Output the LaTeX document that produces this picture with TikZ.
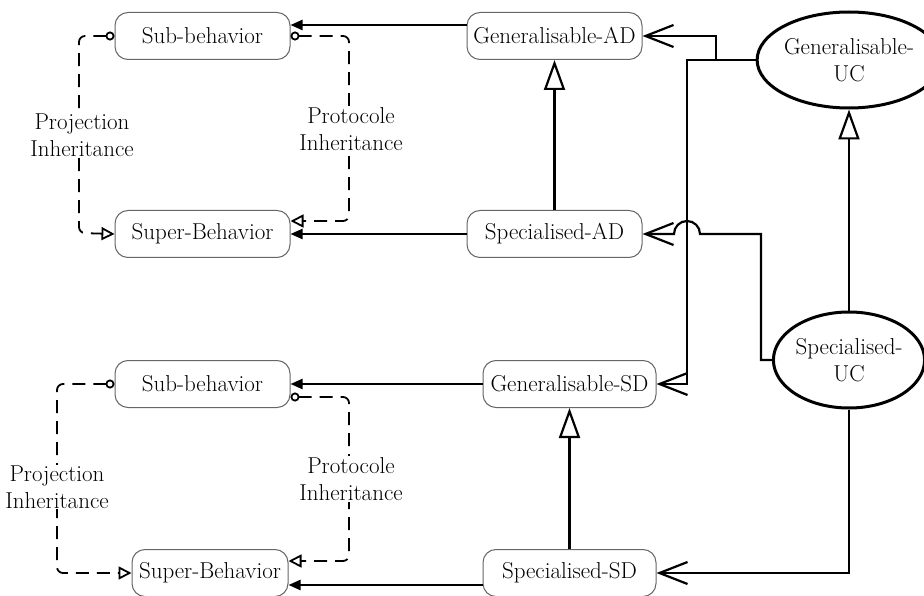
\documentclass[tikz,border=0pt]{standalone}
\usetikzlibrary{arrows.meta,shapes.geometric}
\begin{document}
\begin{tikzpicture}[x=1pt,y=-1pt,
  every node/.style={font=\fontsize{23}{27}\selectfont, inner sep=0pt},
  behbox/.style={draw=black!60, line width=1pt, rounded corners=13pt, minimum height=47pt},
  ucell/.style={draw, ellipse, line width=3pt, minimum width=150pt, minimum height=96pt, align=center},
  lbl/.style={fill=white, align=center, inner sep=1pt},
  link/.style={line width=2.2pt},
  calls/.style={link, -{Triangle[length=12pt,width=10pt]}},
  refines/.style={link, -{Straight Barb[length=28pt,width=22pt]}},
  general/.style={link, -{Triangle[open,length=30pt,width=21pt]}},
  inherit/.style={line width=1.8pt, dash pattern=on 13pt off 8pt, rounded corners=6pt,
    {Circle[open,length=9pt,width=9pt]}-{Triangle[open,length=13pt,width=13pt]}}
]
\useasboundingbox (0,0) rectangle (924,596);

% behaviour boxes, upper block
\node[behbox, minimum width=175pt] (subA) at (202.5,36) {Sub-behavior};
\node[behbox, minimum width=175pt] (supA) at (202.5,234) {Super-Behavior};
% behaviour boxes, lower block
\node[behbox, minimum width=175pt] (subB) at (202.5,384) {Sub-behavior};
\node[behbox, minimum width=156pt] (supB) at (210,573) {Super-Behavior};

% diagram boxes
\node[behbox, minimum width=175pt] (genAD) at (554.5,36) {Generalisable-AD};
\node[behbox, minimum width=175pt] (specAD) at (554.5,234) {Specialised-AD};
\node[behbox, minimum width=173pt] (genSD) at (569.5,384) {Generalisable-SD};
\node[behbox, minimum width=173pt] (specSD) at (569.5,573) {Specialised-SD};

% use cases
\node[ucell] (genUC) at (849,60) {Generalisable-\\UC};
\node[ucell] (specUC) at (849,360) {Specialised-\\UC};

% diagram to behaviour links
\draw[calls] ([yshift=11pt]genAD.west) -- ([yshift=11pt]subA.east);
\draw[calls] (specAD.west) -- (supA.east);
\draw[calls] (genSD.west) -- (subB.east);
\draw[calls] ([yshift=-12pt]specSD.west) -- ([yshift=-12pt]supB.east);

% generalisations
\draw[general] (specAD.north) -- (genAD.south);
\draw[general] (specSD.north) -- (genSD.south);
\draw[general] (specUC.north) -- (genUC.south);

% use case to diagram links
\coordinate (j1) at (716,60);
\coordinate (k1) at (761,234);
\coordinate (hop) at (700,234);
\draw[refines] (genUC.west) -- (j1) |- (genAD.east);
\draw[refines] (j1) -- (687,60) |- (genSD.east);
\draw[refines] (specUC.west) -| (k1) -- (hop)
  arc[start angle=0, end angle=180, radius=13pt] -- (specAD.east);
\draw[refines] (specUC.south) |- (specSD.east);

% inheritance relations, upper block
\draw[inherit] (subA.west) -- (79,36) -- (79,233) -- (supA.west);
\draw[inherit] (subA.east) -- (349,36) -- (349,221) -- ([yshift=13pt]supA.east);
\node[lbl] (projA) at (82,135) {Projection\\Inheritance};
\node[lbl] (protA) at (351,129) {Protocole\\Inheritance};

% inheritance relations, lower block
\draw[inherit] (subB.west) -- (57,384) -- (57,573) -- (supB.west);
\draw[inherit] ([yshift=-13pt]subB.east) -- (349,397) -- (349,561) -- ([yshift=12pt]supB.east);
\node[lbl] (projB) at (57,487) {Projection\\Inheritance};
\node[lbl] (protB) at (351,479) {Protocole\\Inheritance};
\end{tikzpicture}
\end{document}
